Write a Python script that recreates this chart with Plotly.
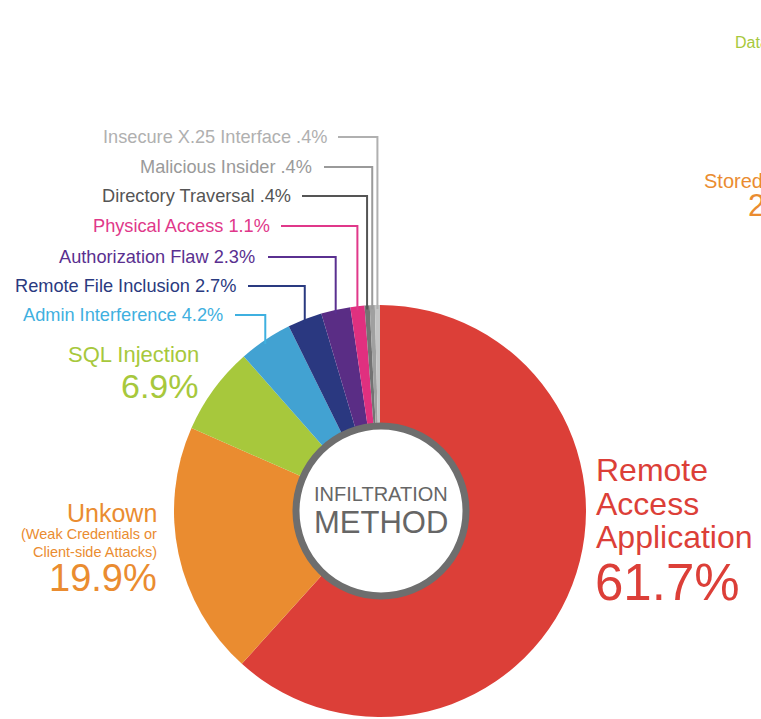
import math
import plotly.graph_objects as go

W, H = 761, 719

# ---- data ----
methods = ["Remote Access Application", "Unkown (Weak Credentials or Client-side Attacks)",
           "SQL Injection", "Admin Interference", "Remote File Inclusion",
           "Authorization Flaw", "Physical Access", "Directory Traversal",
           "Malicious Insider", "Insecure X.25 Interface"]
shares = [61.7, 19.9, 6.9, 4.2, 2.7, 2.3, 1.1, 0.4, 0.4, 0.4]
colors = ["#DC3F38", "#EA8C30", "#A7C83C", "#42A2D2", "#2A3880", "#5A2D85",
          "#E0307F", "#737373", "#A0A0A0", "#C4C4C4"]
share_labels = ["61.7%", "19.9%", "6.9%", "4.2%", "2.7%", "2.3%", "1.1%", ".4%", ".4%", ".4%"]

# small callout labels (index in data, text colour, label y in px, label right x, line start x)
small = [
    (3, "Admin Interference", "#3FB0E0", 315, 225, 235),
    (4, "Remote File Inclusion", "#2A3A80", 286, 238, 248),
    (5, "Authorization Flaw", "#5A3090", 257, 257, 268),
    (6, "Physical Access", "#E0388A", 226, 272, 281),
    (7, "Directory Traversal", "#555555", 196, 293, 302),
    (8, "Malicious Insider", "#9A9A9A", 167, 314, 324),
    (9, "Insecure X.25 Interface", "#B0B0B0", 137, 329, 338),
]

FONT = "Liberation Sans"
CX, CY, R = 380, 511, 206


def px(x):
    return x / W


def py(y):
    return 1 - y / H


fig = go.Figure(go.Pie(
    labels=methods, values=shares, sort=False, direction="clockwise", rotation=0,
    marker=dict(colors=colors, line=dict(width=0)), textinfo="none",
    hoverinfo="label+percent", showlegend=False,
    domain=dict(x=[px(CX - R), px(CX + R)], y=[max(0, py(CY + R)), py(CY - R)]),
))

shapes = []
annotations = []

# centre ring
RC = 85
shapes.append(dict(type="circle", xref="paper", yref="paper",
                   x0=px(CX + 1 - RC), x1=px(CX + 1 + RC), y0=py(CY + RC), y1=py(CY - RC),
                   fillcolor="white", line=dict(color="#6E6E6E", width=7)))
annotations.append(dict(text="INFILTRATION", x=px(CX + 1), y=py(494), xref="paper", yref="paper",
                        showarrow=False, xanchor="center", yanchor="middle",
                        font=dict(family=FONT, size=20, color="#666666")))
annotations.append(dict(text="METHOD", x=px(CX + 1), y=py(522), xref="paper", yref="paper",
                        showarrow=False, xanchor="center", yanchor="middle",
                        font=dict(family=FONT, size=31, color="#666666")))

# callouts with leader lines
total = sum(shares)
cum = []
c = 0
for v in shares:
    cum.append(c)
    c += v
for idx, name, col, ly, tx, lx in small:
    mid = (cum[idx] + shares[idx] / 2) / total * 2 * math.pi
    ex = CX + R * math.sin(mid)
    ey = CY - R * math.cos(mid) + 4
    path = f"M {px(lx)} {py(ly)} L {px(ex)} {py(ly)} L {px(ex)} {py(ey)}"
    shapes.append(dict(type="path", xref="paper", yref="paper", path=path,
                       line=dict(color=col, width=2)))
    annotations.append(dict(text=f"{name} {share_labels[idx]}", x=px(tx), y=py(ly),
                            xref="paper", yref="paper", showarrow=False,
                            xanchor="right", yanchor="middle",
                            font=dict(family=FONT, size=18.2, color=col)))


def add_text(text, x, y, size, color, anchor):
    annotations.append(dict(text=text, x=px(x), y=py(y), xref="paper", yref="paper",
                            showarrow=False, xanchor=anchor, yanchor="middle",
                            font=dict(family=FONT, size=size, color=color)))


# big labels
add_text("SQL Injection", 201, 355, 22, colors[2], "right")
add_text(share_labels[2], 201, 386, 34, colors[2], "right")

add_text("Unkown", 159, 513, 25, colors[1], "right")
add_text("(Weak Credentials or", 159, 533.5, 14.5, colors[1], "right")
add_text("Client-side Attacks)", 159, 551.5, 14.5, colors[1], "right")
add_text(share_labels[1], 159, 578, 38, colors[1], "right")

add_text("Remote", 594, 470, 32, colors[0], "left")
add_text("Access", 594, 504, 32, colors[0], "left")
add_text("Application", 594, 537, 32, colors[0], "left")
add_text(share_labels[0], 593, 582, 51, colors[0], "left")

# text from the neighbouring chart, cut off at the edge
add_text("Data", 733, 43, 16, "#A7C83C", "left")
add_text("Stored", 702, 181, 20, "#EA8C30", "left")
add_text("2", 746, 206, 31, "#EA8C30", "left")

fig.update_layout(width=W, height=H, margin=dict(l=0, r=0, t=0, b=0),
                  paper_bgcolor="white", plot_bgcolor="white",
                  shapes=shapes, annotations=annotations)

fig.write_html("out.html", config={"displayModeBar": False},
               post_script="document.body.style.margin='0';document.body.style.overflow='hidden';")
